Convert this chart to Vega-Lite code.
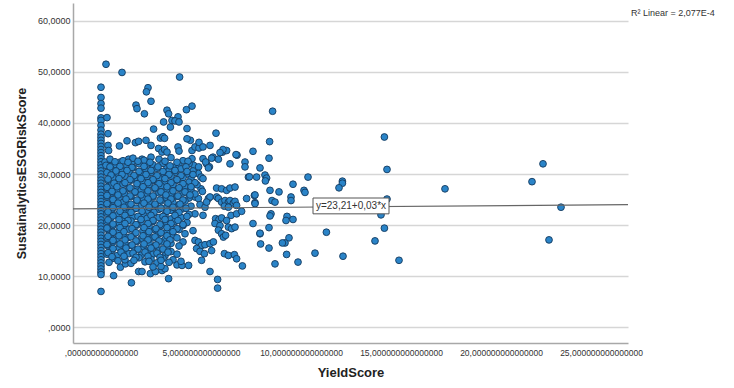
{
"$schema":"https://vega.github.io/schema/vega-lite/v6.json",
"autosize":{"type":"none"},
"padding":{"left":73,"top":3,"right":106,"bottom":45},
"width":555,"height":340,
"background":"white",
"config":{"font":"Liberation Sans","view":{"stroke":null}},
"datasets":{
"pts":[
{"yield":0,"esg":47},{"yield":0,"esg":45},{"yield":0,"esg":43.8},{"yield":0,"esg":42.9},{"yield":0,"esg":41},{"yield":0,"esg":40.5},{"yield":0,"esg":39.5},{"yield":0,"esg":38.6},{"yield":0,"esg":37.8},{"yield":0,"esg":37.2},{"yield":0,"esg":36.6},{"yield":0,"esg":36},{"yield":0,"esg":35.4},{"yield":0,"esg":34.8},{"yield":0,"esg":34.2},{"yield":0,"esg":33.6},{"yield":0,"esg":33},{"yield":0,"esg":32.4},{"yield":0,"esg":31.8},{"yield":0,"esg":31.2},{"yield":0,"esg":30.6},{"yield":0,"esg":30},{"yield":0,"esg":29.4},{"yield":0,"esg":28.8},{"yield":0,"esg":28.2},{"yield":0,"esg":27.6},{"yield":0,"esg":27},{"yield":0,"esg":26.4},{"yield":0,"esg":25.8},{"yield":0,"esg":25.2},{"yield":0,"esg":24.6},{"yield":0,"esg":24},{"yield":0,"esg":23.4},{"yield":0,"esg":22.8},{"yield":0,"esg":22.2},{"yield":0,"esg":21.6},{"yield":0,"esg":21},{"yield":0,"esg":20.4},{"yield":0,"esg":19.8},{"yield":0,"esg":19.2},{"yield":0,"esg":18.6},{"yield":0,"esg":18},{"yield":0,"esg":17.4},{"yield":0,"esg":16.8},{"yield":0,"esg":16.2},{"yield":0,"esg":15.6},{"yield":0,"esg":15},{"yield":0,"esg":14.4},{"yield":0,"esg":13.8},{"yield":0,"esg":13.2},{"yield":0,"esg":12.6},{"yield":0,"esg":12},{"yield":0,"esg":11.4},{"yield":0,"esg":10.8},{"yield":0,"esg":10.3},{"yield":0,"esg":7},
{"yield":0.25,"esg":51.5},{"yield":1.05,"esg":49.9},{"yield":3.93,"esg":49},{"yield":2.35,"esg":46.9},{"yield":2.27,"esg":46.1},{"yield":2.5,"esg":44.25},{"yield":1.75,"esg":43.5},{"yield":1.8,"esg":42.8},{"yield":2.17,"esg":41.8},{"yield":3.3,"esg":42.5},{"yield":3.38,"esg":41.8},{"yield":4.55,"esg":43.3},{"yield":4.27,"esg":42.6},{"yield":0.3,"esg":41.05},{"yield":3.13,"esg":40.2},{"yield":3.55,"esg":40.5},{"yield":3.85,"esg":41.2},{"yield":3.7,"esg":40.4},{"yield":3.9,"esg":40.2},{"yield":3.47,"esg":39.2},{"yield":2.63,"esg":38.8},{"yield":4.3,"esg":38.9},{"yield":0.35,"esg":37.9},{"yield":2.97,"esg":37.05},{"yield":3.1,"esg":37.3},{"yield":3.18,"esg":37},{"yield":0.92,"esg":35.5},{"yield":1.3,"esg":36.5},{"yield":1.72,"esg":36.15},{"yield":1.88,"esg":36.4},{"yield":2.25,"esg":36.6},{"yield":2.5,"esg":35.6},{"yield":0.35,"esg":35.6},{"yield":0.38,"esg":34.6},{"yield":3.85,"esg":35.3},{"yield":3.9,"esg":34.5},{"yield":4.47,"esg":36.6},{"yield":4.3,"esg":36.9},{"yield":2.88,"esg":35},{"yield":3.05,"esg":34.3},{"yield":3.18,"esg":34.8},{"yield":3.3,"esg":34.3},{"yield":4.55,"esg":34.6},{"yield":4.7,"esg":35.3},{"yield":4.9,"esg":35.1},{"yield":0.2,"esg":32.35},{"yield":0.55,"esg":32.2},{"yield":0.8,"esg":32},{"yield":0.97,"esg":32.35},{"yield":1.38,"esg":32.9},{"yield":1.55,"esg":32.35},{"yield":2.05,"esg":32.9},{"yield":2.2,"esg":32.5},{"yield":2.35,"esg":32},{"yield":2.5,"esg":33.3},{"yield":3.3,"esg":31.2},{"yield":3.7,"esg":31.4},{"yield":4.55,"esg":33},{"yield":4.63,"esg":31.7},{"yield":4.88,"esg":31.4},
{"yield":5.75,"esg":38},{"yield":4.9,"esg":36.2},{"yield":5.1,"esg":35.3},{"yield":5.45,"esg":35.6},{"yield":6.8,"esg":33.7},{"yield":6.45,"esg":32},{"yield":7.2,"esg":32.35},{"yield":7.2,"esg":31.4},{"yield":7.37,"esg":29.4},{"yield":6.08,"esg":34.3},{"yield":6.28,"esg":34.6},{"yield":5.6,"esg":33.3},{"yield":5.87,"esg":32.9},{"yield":5.28,"esg":32},{"yield":5.42,"esg":31.4},{"yield":6.1,"esg":34.8},{"yield":5.95,"esg":34.2},{"yield":6.75,"esg":33.8},{"yield":7.6,"esg":34.45},{"yield":5.1,"esg":33},{"yield":5.23,"esg":32.35},{"yield":5.53,"esg":33.1},{"yield":7.95,"esg":31.2},{"yield":5.37,"esg":31.2},
{"yield":4.87,"esg":30.1},{"yield":5,"esg":29.4},{"yield":5.1,"esg":29.1},{"yield":7.78,"esg":29.4},{"yield":5.78,"esg":27.25},{"yield":6.03,"esg":27.1},{"yield":6.28,"esg":26.8},{"yield":6.45,"esg":27.25},{"yield":6.7,"esg":27.45},{"yield":5,"esg":27.1},{"yield":5.07,"esg":26.6},{"yield":4.7,"esg":25.5},{"yield":4.87,"esg":25.2},{"yield":5.37,"esg":25.2},{"yield":5.45,"esg":25.5},{"yield":4.95,"esg":24},{"yield":5.2,"esg":23.5},{"yield":5.28,"esg":24.5},{"yield":5.78,"esg":25.5},{"yield":5.87,"esg":25.2},{"yield":6.03,"esg":24.5},{"yield":6.2,"esg":24.8},{"yield":6.37,"esg":24.5},{"yield":6.45,"esg":24.8},{"yield":6.62,"esg":24.3},{"yield":6.7,"esg":24.65},{"yield":6.78,"esg":23.85},{"yield":6.17,"esg":23.7},{"yield":6.37,"esg":23.5},{"yield":7.28,"esg":25.2},{"yield":7.67,"esg":25.8},{"yield":7.7,"esg":24.4},{"yield":4.7,"esg":22.2},{"yield":5.1,"esg":21.9},{"yield":6.5,"esg":21.9},{"yield":6.78,"esg":22.2},{"yield":7.03,"esg":22.7},{"yield":5.73,"esg":21.25},{"yield":5.9,"esg":21.1},{"yield":6.03,"esg":21.4},{"yield":6.28,"esg":20.9},{"yield":5.7,"esg":20.3},{"yield":5.95,"esg":19.9},{"yield":5.87,"esg":19},{"yield":6.03,"esg":18.3},{"yield":6.12,"esg":17.65},{"yield":6.23,"esg":18},{"yield":6.37,"esg":19.6},{"yield":6.53,"esg":19.3},{"yield":6.7,"esg":19.6},{"yield":7.95,"esg":18.3},{"yield":4.7,"esg":17},{"yield":4.87,"esg":16.7},{"yield":5.03,"esg":16},{"yield":5.2,"esg":16.15},{"yield":5.45,"esg":16.35},{"yield":5.62,"esg":16.7},{"yield":4.78,"esg":15.4},{"yield":4.95,"esg":14.85},{"yield":5.17,"esg":14.4},{"yield":5.53,"esg":15},{"yield":6.17,"esg":14.4},{"yield":6.37,"esg":14.05},{"yield":6.67,"esg":14.2},{"yield":6.78,"esg":13.4},{"yield":7.07,"esg":12},{"yield":5.03,"esg":13.1},{"yield":5.45,"esg":10.9},{"yield":5.83,"esg":9.35},{"yield":5.83,"esg":7.65},
{"yield":8.58,"esg":42.3},{"yield":8.43,"esg":36.35},{"yield":8.4,"esg":33.1},{"yield":7.42,"esg":29.45},{"yield":8.2,"esg":29.8},{"yield":8.28,"esg":29.2},{"yield":8.22,"esg":28.65},{"yield":8.45,"esg":26.8},{"yield":8.9,"esg":26.5},{"yield":9.6,"esg":28},{"yield":10.15,"esg":26.8},{"yield":10.2,"esg":26.4},{"yield":10.35,"esg":29.4},{"yield":7.7,"esg":25.9},{"yield":8.55,"esg":24.8},{"yield":8.7,"esg":24.5},{"yield":7.7,"esg":24.2},{"yield":9.5,"esg":25.5},{"yield":9.5,"esg":24.8},{"yield":8.5,"esg":22.2},{"yield":8.45,"esg":21.8},{"yield":9.3,"esg":21.7},{"yield":9.25,"esg":20.9},{"yield":9.6,"esg":21.1},{"yield":7.6,"esg":20.3},{"yield":8.4,"esg":19.5},{"yield":7.95,"esg":18.4},{"yield":9.4,"esg":17.5},{"yield":9.2,"esg":16.5},{"yield":9.07,"esg":16.5},{"yield":7.98,"esg":16.3},{"yield":8.4,"esg":15.5},{"yield":11.27,"esg":18.6},{"yield":10.7,"esg":14.5},{"yield":9.28,"esg":14.25},{"yield":9.85,"esg":12.75},{"yield":8.7,"esg":12.4},{"yield":12.1,"esg":13.9},
{"yield":14.17,"esg":37.25},{"yield":14.3,"esg":30.9},{"yield":12.07,"esg":28.6},{"yield":12.07,"esg":28.2},{"yield":11.9,"esg":27.3},{"yield":17.2,"esg":27.1},{"yield":21.55,"esg":28.5},{"yield":22.1,"esg":32},{"yield":23,"esg":23.5},{"yield":22.4,"esg":17.1},{"yield":14.3,"esg":25.1},{"yield":14,"esg":22},{"yield":14.17,"esg":19.4},{"yield":13.7,"esg":16.9},{"yield":14.9,"esg":13.1},
{"yield":0.63,"esg":10.1},{"yield":1.52,"esg":8.7},{"yield":3.38,"esg":9.5},{"yield":1.88,"esg":10.9},{"yield":2.05,"esg":10.9},{"yield":0.97,"esg":11.75},{"yield":1.22,"esg":12.4},{"yield":2.47,"esg":10.5},{"yield":2.72,"esg":10.9},{"yield":3.05,"esg":11.1},{"yield":3.2,"esg":11.45},{"yield":3.8,"esg":12.2},{"yield":4.05,"esg":12.1},{"yield":4.38,"esg":12.1},
{"yield":0.45,"esg":32.9},{"yield":1.1,"esg":32.6},{"yield":1.6,"esg":33.1},{"yield":2.15,"esg":32.7},{"yield":2.9,"esg":32.9},{"yield":3.5,"esg":33.2},{"yield":4.1,"esg":32.6},
{"yield":0.25,"esg":31.7},{"yield":0.7,"esg":31.9},{"yield":1.3,"esg":31.6},{"yield":1.9,"esg":32},{"yield":2.6,"esg":31.8},{"yield":3.1,"esg":32.1},{"yield":3.9,"esg":31.7},{"yield":4.4,"esg":32},
{"yield":0.5,"esg":31},{"yield":1,"esg":30.8},{"yield":1.6,"esg":31.2},{"yield":2.2,"esg":30.9},{"yield":2.8,"esg":31.1},{"yield":3.4,"esg":30.7},{"yield":4,"esg":31},{"yield":4.6,"esg":30.6},
{"yield":0.3,"esg":30.3},{"yield":0.8,"esg":30},{"yield":1.4,"esg":30.4},{"yield":2,"esg":30.1},{"yield":2.5,"esg":30.3},{"yield":3.1,"esg":29.9},{"yield":3.7,"esg":30.3},{"yield":4.3,"esg":30},
{"yield":0.6,"esg":29.3},{"yield":1.2,"esg":29.6},{"yield":1.7,"esg":29.2},{"yield":2.3,"esg":29.5},{"yield":2.9,"esg":29.2},{"yield":3.5,"esg":29.6},{"yield":4.1,"esg":29.3},{"yield":4.5,"esg":29},
{"yield":0.35,"esg":28.7},{"yield":0.9,"esg":28.5},{"yield":1.5,"esg":28.8},{"yield":2.1,"esg":28.4},{"yield":2.6,"esg":28.7},{"yield":3.2,"esg":28.5},{"yield":3.8,"esg":28.8},{"yield":4.4,"esg":28.4},
{"yield":0.5,"esg":27.7},{"yield":1.1,"esg":28},{"yield":1.8,"esg":27.6},{"yield":2.4,"esg":27.9},{"yield":3,"esg":27.7},{"yield":3.6,"esg":27.9},{"yield":4.2,"esg":27.6},{"yield":4.8,"esg":27.9},
{"yield":0.3,"esg":27.1},{"yield":0.8,"esg":26.9},{"yield":1.4,"esg":27.2},{"yield":2,"esg":26.8},{"yield":2.7,"esg":27.1},{"yield":3.3,"esg":26.9},{"yield":3.9,"esg":27.2},{"yield":4.5,"esg":26.9},
{"yield":0.55,"esg":26.3},{"yield":1.2,"esg":26},{"yield":1.7,"esg":26.4},{"yield":2.3,"esg":26.1},{"yield":2.9,"esg":26.3},{"yield":3.5,"esg":26},{"yield":4.1,"esg":26.3},{"yield":4.7,"esg":26.1},
{"yield":0.3,"esg":25.5},{"yield":0.9,"esg":25.3},{"yield":1.5,"esg":25.6},{"yield":2.1,"esg":25.2},{"yield":2.6,"esg":25.5},{"yield":3.2,"esg":25.3},{"yield":3.8,"esg":25.6},{"yield":4.4,"esg":25.3},
{"yield":0.6,"esg":24.7},{"yield":1.1,"esg":24.4},{"yield":1.8,"esg":24.8},{"yield":2.4,"esg":24.5},{"yield":3,"esg":24.7},{"yield":3.6,"esg":24.4},{"yield":4.2,"esg":24.7},
{"yield":0.35,"esg":23.9},{"yield":0.9,"esg":23.6},{"yield":1.4,"esg":24},{"yield":2,"esg":23.7},{"yield":2.7,"esg":23.9},{"yield":3.3,"esg":23.6},{"yield":3.9,"esg":23.9},{"yield":4.5,"esg":23.7},
{"yield":0.55,"esg":23.1},{"yield":1.2,"esg":22.9},{"yield":1.7,"esg":23.2},{"yield":2.3,"esg":22.8},{"yield":2.9,"esg":23.1},{"yield":3.5,"esg":22.9},{"yield":4.1,"esg":23.2},
{"yield":0.3,"esg":22.3},{"yield":0.8,"esg":22},{"yield":1.4,"esg":22.4},{"yield":2.1,"esg":22.1},{"yield":2.6,"esg":22.3},{"yield":3.2,"esg":22},{"yield":3.8,"esg":22.3},{"yield":4.4,"esg":22.1},
{"yield":0.5,"esg":21.5},{"yield":1.1,"esg":21.2},{"yield":1.6,"esg":21.6},{"yield":2.3,"esg":21.3},{"yield":2.9,"esg":21.5},{"yield":3.5,"esg":21.2},{"yield":4,"esg":21.5},
{"yield":0.3,"esg":20.7},{"yield":0.9,"esg":20.4},{"yield":1.5,"esg":20.8},{"yield":2,"esg":20.5},{"yield":2.6,"esg":20.7},{"yield":3.2,"esg":20.4},{"yield":3.7,"esg":20.7},{"yield":4.3,"esg":20.5},
{"yield":0.6,"esg":19.9},{"yield":1.2,"esg":19.6},{"yield":1.8,"esg":20},{"yield":2.4,"esg":19.7},{"yield":3,"esg":19.9},{"yield":3.5,"esg":19.6},{"yield":4.1,"esg":19.9},
{"yield":0.35,"esg":19.1},{"yield":0.9,"esg":18.8},{"yield":1.4,"esg":19.2},{"yield":2.1,"esg":18.9},{"yield":2.7,"esg":19.1},{"yield":3.3,"esg":18.8},{"yield":3.9,"esg":19.1},{"yield":4.6,"esg":18.9},
{"yield":0.55,"esg":18.3},{"yield":1.1,"esg":18},{"yield":1.7,"esg":18.4},{"yield":2.3,"esg":18.1},{"yield":2.9,"esg":18.3},{"yield":3.6,"esg":18},{"yield":4.2,"esg":18.3},
{"yield":0.3,"esg":17.5},{"yield":0.8,"esg":17.2},{"yield":1.4,"esg":17.6},{"yield":2,"esg":17.3},{"yield":2.6,"esg":17.5},{"yield":3.2,"esg":17.2},{"yield":3.8,"esg":17.5},
{"yield":0.6,"esg":16.7},{"yield":1.2,"esg":16.4},{"yield":1.8,"esg":16.8},{"yield":2.4,"esg":16.5},{"yield":3,"esg":16.7},{"yield":3.5,"esg":16.4},{"yield":4.1,"esg":16.7},
{"yield":0.35,"esg":15.9},{"yield":0.9,"esg":15.6},{"yield":1.5,"esg":16},{"yield":2.1,"esg":15.7},{"yield":2.7,"esg":15.9},{"yield":3.3,"esg":15.6},{"yield":3.9,"esg":15.9},
{"yield":0.55,"esg":15.1},{"yield":1.1,"esg":14.8},{"yield":1.7,"esg":15.2},{"yield":2.3,"esg":14.9},{"yield":2.9,"esg":15.1},{"yield":3.5,"esg":14.8},
{"yield":0.3,"esg":14.3},{"yield":0.8,"esg":14},{"yield":1.4,"esg":14.4},{"yield":2,"esg":14.1},{"yield":2.6,"esg":14.3},{"yield":3.2,"esg":14},{"yield":3.8,"esg":14.3},
{"yield":0.6,"esg":13.5},{"yield":1.2,"esg":13.2},{"yield":1.9,"esg":13.6},{"yield":2.5,"esg":13.3},{"yield":3.1,"esg":13.5},{"yield":3.6,"esg":13.2},
{"yield":0.4,"esg":12.7},{"yield":1.5,"esg":12.5},{"yield":2.2,"esg":12.8},{"yield":2.8,"esg":12.6},{"yield":3.4,"esg":12.7},{"yield":4,"esg":12.9},
{"yield":2.6,"esg":11.8},{"yield":3,"esg":11.9},
{"yield":0.7,"esg":32.4},{"yield":1.35,"esg":32.3},{"yield":1.85,"esg":32.5},{"yield":2.45,"esg":32.3},{"yield":3.2,"esg":32.5},{"yield":3.8,"esg":32.3},{"yield":4.35,"esg":32.5},
{"yield":0.45,"esg":31.4},{"yield":0.95,"esg":31.5},{"yield":1.55,"esg":31.3},{"yield":2.15,"esg":31.5},{"yield":2.85,"esg":31.4},{"yield":3.45,"esg":31.6},{"yield":4.25,"esg":31.4},
{"yield":0.75,"esg":30.6},{"yield":1.3,"esg":30.7},{"yield":1.9,"esg":30.5},{"yield":2.5,"esg":30.7},{"yield":3.1,"esg":30.5},{"yield":3.7,"esg":30.7},{"yield":4.3,"esg":30.5},
{"yield":0.5,"esg":29.8},{"yield":1.05,"esg":29.9},{"yield":1.65,"esg":29.7},{"yield":2.25,"esg":29.9},{"yield":2.8,"esg":29.7},{"yield":3.4,"esg":29.9},{"yield":4,"esg":29.7},{"yield":4.6,"esg":29.9},
{"yield":0.35,"esg":29},{"yield":0.9,"esg":29.1},{"yield":1.45,"esg":28.9},{"yield":2,"esg":29.1},{"yield":2.6,"esg":28.9},{"yield":3.2,"esg":29.1},{"yield":3.8,"esg":28.9},
{"yield":0.65,"esg":28.2},{"yield":1.2,"esg":28.3},{"yield":1.8,"esg":28.1},{"yield":2.35,"esg":28.3},{"yield":2.9,"esg":28.1},{"yield":3.5,"esg":28.3},{"yield":4.1,"esg":28.1},{"yield":4.7,"esg":28.3},
{"yield":0.3,"esg":27.4},{"yield":0.8,"esg":27.5},{"yield":1.45,"esg":27.3},{"yield":2.1,"esg":27.5},{"yield":2.7,"esg":27.3},{"yield":3.3,"esg":27.5},{"yield":3.9,"esg":27.3},{"yield":4.5,"esg":27.5},
{"yield":0.55,"esg":26.6},{"yield":1.1,"esg":26.7},{"yield":1.7,"esg":26.5},{"yield":2.35,"esg":26.7},{"yield":3,"esg":26.5},{"yield":3.6,"esg":26.7},{"yield":4.2,"esg":26.5},
{"yield":0.3,"esg":25.8},{"yield":0.85,"esg":25.9},{"yield":1.45,"esg":25.7},{"yield":2,"esg":25.9},{"yield":2.6,"esg":25.7},{"yield":3.25,"esg":25.9},{"yield":3.85,"esg":25.7},{"yield":4.45,"esg":25.9},
{"yield":0.6,"esg":25},{"yield":1.25,"esg":25.1},{"yield":1.8,"esg":24.9},{"yield":2.35,"esg":25.1},{"yield":2.95,"esg":24.9},{"yield":3.5,"esg":25.1},{"yield":4.1,"esg":24.9},
{"yield":0.3,"esg":24.2},{"yield":0.85,"esg":24.3},{"yield":1.5,"esg":24.1},{"yield":2.15,"esg":24.3},{"yield":2.7,"esg":24.1},{"yield":3.35,"esg":24.3},{"yield":3.95,"esg":24.1},
{"yield":0.6,"esg":23.4},{"yield":1.15,"esg":23.5},{"yield":1.75,"esg":23.3},{"yield":2.4,"esg":23.5},{"yield":3,"esg":23.3},{"yield":3.6,"esg":23.5},{"yield":4.25,"esg":23.3},
{"yield":0.35,"esg":22.6},{"yield":0.95,"esg":22.7},{"yield":1.5,"esg":22.5},{"yield":2.05,"esg":22.7},{"yield":2.65,"esg":22.5},{"yield":3.3,"esg":22.7},{"yield":3.9,"esg":22.5},
{"yield":0.6,"esg":21.8},{"yield":1.2,"esg":21.9},{"yield":1.85,"esg":21.7},{"yield":2.5,"esg":21.9},{"yield":3.1,"esg":21.7},{"yield":3.7,"esg":21.9},{"yield":4.3,"esg":21.7},
{"yield":0.35,"esg":21},{"yield":0.9,"esg":21.1},{"yield":1.35,"esg":20.9},{"yield":2,"esg":21.1},{"yield":2.6,"esg":20.9},{"yield":3.2,"esg":21.1},{"yield":3.85,"esg":20.9},
{"yield":0.6,"esg":20.2},{"yield":1.2,"esg":20.3},{"yield":1.75,"esg":20.1},{"yield":2.35,"esg":20.3},{"yield":2.95,"esg":20.1},{"yield":3.5,"esg":20.3},{"yield":4.1,"esg":20.1},
{"yield":0.3,"esg":19.4},{"yield":0.95,"esg":19.5},{"yield":1.55,"esg":19.3},{"yield":2.15,"esg":19.5},{"yield":2.75,"esg":19.3},{"yield":3.3,"esg":19.5},{"yield":3.8,"esg":19.3},
{"yield":0.6,"esg":18.6},{"yield":1.15,"esg":18.7},{"yield":1.75,"esg":18.5},{"yield":2.4,"esg":18.7},{"yield":3,"esg":18.5},{"yield":3.6,"esg":18.7},
{"yield":0.35,"esg":17.8},{"yield":0.9,"esg":17.9},{"yield":1.5,"esg":17.7},{"yield":2.1,"esg":17.9},{"yield":2.7,"esg":17.7},{"yield":3.3,"esg":17.9},
{"yield":0.6,"esg":17},{"yield":1.2,"esg":17.1},{"yield":1.75,"esg":16.9},{"yield":2.35,"esg":17.1},{"yield":2.9,"esg":16.9},{"yield":3.45,"esg":17.1},
{"yield":0.3,"esg":16.2},{"yield":0.95,"esg":16.3},{"yield":1.55,"esg":16.1},{"yield":2.15,"esg":16.3},{"yield":2.75,"esg":16.1},{"yield":3.3,"esg":16.3},
{"yield":0.6,"esg":15.4},{"yield":1.25,"esg":15.5},{"yield":1.85,"esg":15.3},{"yield":2.5,"esg":15.5},{"yield":3.1,"esg":15.3},
{"yield":0.35,"esg":14.6},{"yield":1,"esg":14.7},{"yield":1.6,"esg":14.5},{"yield":2.2,"esg":14.7},{"yield":2.8,"esg":14.5},{"yield":3.35,"esg":14.7},
{"yield":0.55,"esg":13.8},{"yield":1.15,"esg":13.9},{"yield":1.75,"esg":13.7},{"yield":2.35,"esg":13.9},{"yield":2.95,"esg":13.7},
{"yield":0.85,"esg":13},{"yield":1.65,"esg":13.1},{"yield":2.4,"esg":12.9},{"yield":3,"esg":13.1}
],
"fit":[{"yield":-1.4,"esg":23.168},{"yield":26.35,"esg":24.0005}],
"box":[{"yield":10.6,"yield2":14.4,"esg":22.2,"esg2":25.3}],
"lbl":[{"yield":12.5,"esg":23.75,"label":"y=23,21+0,03*x"}],
"r2":[{"yield":26.5,"esg":61.6,"label":"R² Linear = 2,077E-4"}]
},
"encoding":{
"x":{"field":"yield","type":"quantitative","scale":{"domain":[-1.4,26.35],"nice":false,"zero":false},
"axis":{"title":"YieldScore","values":[0,5,10,15,20,25],"grid":false,"ticks":false,"domainColor":"#a8a8a8","domainWidth":1.5,"labelFontSize":8.5,"labelColor":"#333333","labelPadding":5,"labelExpr":"datum.value == 0 ? ',000000000000000' : replace(format(datum.value, '.15f'), '.', ',')","titleFontSize":13,"titleFontWeight":"bold","titleColor":"#222222","titlePadding":10}},
"y":{"field":"esg","type":"quantitative","scale":{"domain":[-3.1,63.5],"nice":false,"zero":false},
"axis":{"title":"SustainalyticsESGRiskScore","values":[0,10,20,30,40,50,60],"grid":true,"gridColor":"#d6d6d6","gridWidth":1.3,"ticks":false,"domainColor":"#a8a8a8","domainWidth":1.5,"labelFontSize":9,"labelColor":"#333333","labelPadding":3,"labelExpr":"datum.value == 0 ? ',0000' : replace(format(datum.value, '.4f'), '.', ',')","titleFontSize":12.5,"titleFontWeight":"bold","titleColor":"#222222","titlePadding":9}}
},
"layer":[
{"data":{"name":"pts"},"mark":{"type":"circle","size":46,"fill":"#2a84c8","stroke":"#153a5e","strokeWidth":0.9,"opacity":1,"fillOpacity":1}},
{"data":{"name":"fit"},"mark":{"type":"line","color":"#666666","strokeWidth":1.2},"encoding":{}},
{"data":{"name":"box"},"mark":{"type":"rect","fill":"white","stroke":"#555555","strokeWidth":1},"encoding":{"x2":{"field":"yield2"},"y2":{"field":"esg2"}}},
{"data":{"name":"lbl"},"mark":{"type":"text","fontSize":10,"color":"#333333","align":"center","baseline":"middle"},"encoding":{"text":{"field":"label"}}},
{"data":{"name":"r2"},"mark":{"type":"text","fontSize":9,"color":"#333333","align":"left","baseline":"middle"},"encoding":{"text":{"field":"label"}}}
]
}
